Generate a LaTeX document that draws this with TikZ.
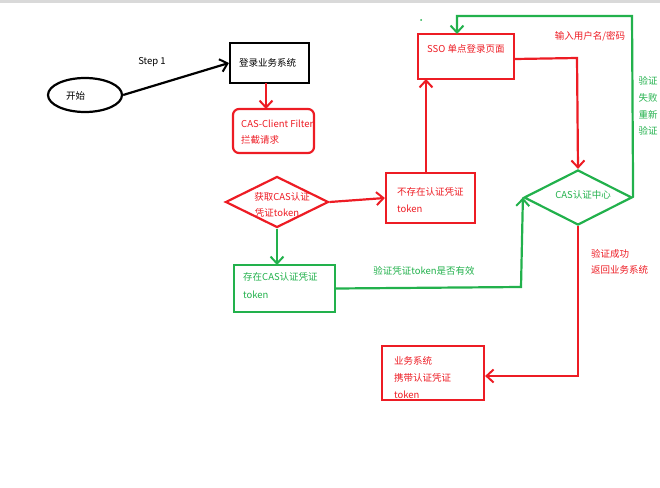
\documentclass[tikz,border=0pt]{standalone}
\usepackage{fontspec}
\setmainfont{Noto Sans CJK SC}
\usetikzlibrary{arrows.meta,shapes.geometric}
\definecolor{myred}{RGB}{237,28,36}
\definecolor{mygreen}{RGB}{34,177,76}
\begin{document}
\begin{tikzpicture}[x=1pt,y=-1pt,font=\fontsize{9.5}{11}\selectfont,
  ln/.style={line width=2.2pt},
  arr/.style={ln,-{Straight Barb[length=7pt,width=13pt,line width=2pt]}},
  rd/.style={draw=myred,text=myred},
  gr/.style={draw=mygreen,text=mygreen},
  txt/.style={anchor=west,inner sep=0pt}]
\useasboundingbox (0,0) rectangle (660,487);
\fill[gray!30] (0,0) rectangle (660,3);
\node[draw,ln,ellipse,minimum width=74pt,minimum height=34pt] (start) at (85,95) {};
\node[txt] at (66,96) {开始};
\node[draw,ln,minimum width=79pt,minimum height=40pt,inner sep=0pt] (login) at (269.5,63) {};
\node[txt] at (239,63) {登录业务系统};
\node at (152,62) {Step 1};
\draw[arr] (start.east) -- (login.west);

\node[rd,ln,rounded corners=6pt,minimum width=81pt,minimum height=44pt] (filter) at (273.5,131) {};
\node[txt,text=myred] at (241,124) {CAS-Client Filter};
\node[txt,text=myred] at (241,140) {拦截请求};
\draw[arr,myred] (266,83) -- (266,109);

\node[rd,ln,diamond,aspect=2,minimum width=103pt,minimum height=51pt,inner sep=0pt] (dia) at (277,202) {};
\node[text=myred] at (282,197) {获取CAS认证};
\node[text=myred] at (277,213) {凭证token};
\draw[arr,mygreen] (dia.south) -- (277,265);

\node[gr,ln,minimum width=101pt,minimum height=47pt] (exist) at (284.5,288.5) {};
\node[txt,text=mygreen] at (243,277) {存在CAS认证凭证};
\node[txt,text=mygreen] at (243,295) {token};

\node[rd,ln,minimum width=89pt,minimum height=50pt] (noexist) at (430.5,198) {};
\node[txt,text=myred] at (397,192) {不存在认证凭证};
\node[txt,text=myred] at (397,209) {token};
\draw[arr,myred] (dia.east) -- (noexist.west);

\node[rd,ln,minimum width=96pt,minimum height=45pt] (sso) at (466,56.5) {};
\node[txt,text=myred] at (427,49) {SSO 单点登录页面};
\draw[arr,myred] (noexist.north -| 426,0) -- (426,79);

\node[gr,ln,diamond,aspect=2,minimum width=108pt,minimum height=55pt,inner sep=0pt] (cas) at (578,197.5) {};
\node[text=mygreen] at (583,195) {CAS认证中心};
\draw[arr,myred] (sso.east |- 0,59) -- (577,58) -- (cas.north);
\node[text=myred] at (590,36) {输入用户名/密码};

\draw[arr,mygreen] (cas.east) -- (632,16) -- (457,16) -- (457,34);
\node[text=mygreen,align=center,font=\fontsize{9.5}{16.7}\selectfont] at (648,106) {验证\\失败\\重新\\验证};
\fill[mygreen] (421,20) circle (1pt);

\draw[arr,mygreen] (exist.east) -- (521,287) -- (cas.west);
\node[text=mygreen] at (424,271) {验证凭证token是否有效};

\node[rd,ln,minimum width=102pt,minimum height=54pt] (biz) at (433,373) {};
\node[txt,text=myred] at (394,361) {业务系统};
\node[txt,text=myred] at (394,378) {携带认证凭证};
\node[txt,text=myred] at (394,395) {token};
\draw[arr,myred] (cas.south) -- (578,376) -- (biz.east |- 0,376);
\node[txt,text=myred] at (591,254) {验证成功};
\node[txt,text=myred] at (591,270) {返回业务系统};
\end{tikzpicture}
\end{document}
